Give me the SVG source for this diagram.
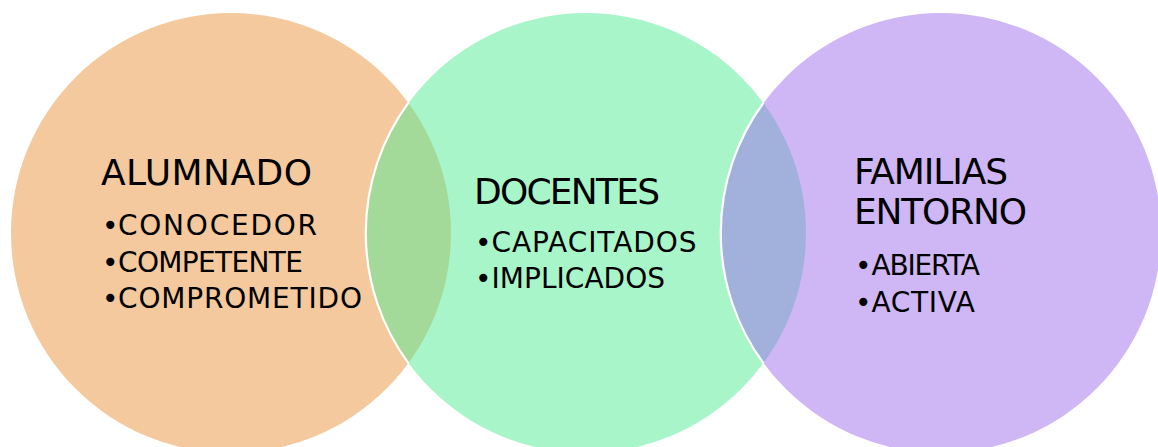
<svg xmlns="http://www.w3.org/2000/svg" width="1158" height="447" viewBox="0 0 1158 447">
<style>
.t{font-family:"DejaVu Sans","Liberation Sans",sans-serif;fill:#000}
.h{font-size:36px}
.b{font-size:28px}
.edge{fill:none;stroke:#fff;stroke-width:2.2}
</style>
<defs>
<clipPath id="cO"><circle cx="231" cy="233" r="220"/></clipPath>
<clipPath id="cG"><circle cx="586" cy="233" r="220"/></clipPath>
</defs>
<rect width="1158" height="447" fill="#fff"/>
<g id="alumnado">
<circle cx="231" cy="233" r="220" fill="#F3C99D"/>
<text class="t h" x="101" y="185" textLength="211" lengthAdjust="spacing">ALUMNADO</text>
<text class="t b" x="102" y="235">•</text><text class="t b" x="118" y="235" textLength="199" lengthAdjust="spacing">CONOCEDOR</text>
<text class="t b" x="102" y="271.5">•</text><text class="t b" x="118" y="271.5" textLength="185" lengthAdjust="spacing">COMPETENTE</text>
<text class="t b" x="102" y="308">•</text><text class="t b" x="118" y="308" textLength="244" lengthAdjust="spacing">COMPROMETIDO</text>
</g>
<g id="docentes">
<circle cx="586" cy="233" r="220" fill="#A9F5CA"/>
<text class="t h" x="474" y="203.5" textLength="186" lengthAdjust="spacing">DOCENTES</text>
<text class="t b" x="475" y="251.5">•</text><text class="t b" x="491.5" y="251.5" textLength="205" lengthAdjust="spacing">CAPACITADOS</text>
<text class="t b" x="475" y="288">•</text><text class="t b" x="491.5" y="288" textLength="173.5" lengthAdjust="spacing">IMPLICADOS</text>
</g>
<g id="overlap-alumnado-docentes">
<circle cx="586" cy="233" r="220" fill="#A3DA9A" clip-path="url(#cO)"/>
</g>
<g id="familias">
<circle cx="941" cy="233" r="220" fill="#CFB6F5"/>
<text class="t h" x="854" y="183.5" textLength="154" lengthAdjust="spacing">FAMILIAS</text>
<text class="t h" x="854" y="223.5" textLength="173" lengthAdjust="spacing">ENTORNO</text>
<text class="t b" x="855" y="275">•</text><text class="t b" x="871.5" y="275" textLength="108.5" lengthAdjust="spacing">ABIERTA</text>
<text class="t b" x="855" y="311.5">•</text><text class="t b" x="871.5" y="311.5" textLength="103.5" lengthAdjust="spacing">ACTIVA</text>
</g>
<g id="overlap-docentes-familias">
<circle cx="941" cy="233" r="220" fill="#A2B1DB" clip-path="url(#cG)"/>
</g>
<g id="connectors">
<path class="edge" d="M408.5 102.7 A220 220 0 0 0 408.5 363.3"/>
<path class="edge" d="M763.5 102.7 A220 220 0 0 0 763.5 363.3"/>
</g>
</svg>
